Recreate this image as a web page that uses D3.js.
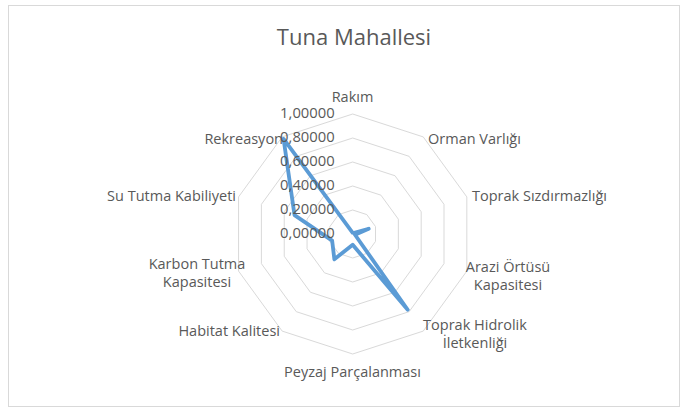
<!DOCTYPE html>
<html>
<head>
<meta charset="utf-8">
<script src="https://cdn.jsdelivr.net/npm/d3@7"></script>
<style>
  html, body { margin: 0; padding: 0; background: #ffffff; }
  svg { display: block; }
  text { font-family: "Open Sans", sans-serif; fill: #595959; }
</style>
</head>
<body>
<svg id="chart" width="687" height="413"></svg>
<script>
const title = "Tuna Mahallesi";
const categories = ["Rakım", "Orman Varlığı", "Toprak Sızdırmazlığı", "Arazi Örtüsü Kapasitesi",
  "Toprak Hidrolik İletkenliği", "Peyzaj Parçalanması", "Habitat Kalitesi",
  "Karbon Tutma Kapasitesi", "Su Tutma Kabiliyeti", "Rekreasyon"];
const labelLines = [["Rakım"], ["Orman Varlığı"], ["Toprak Sızdırmazlığı"], ["Arazi Örtüsü", "Kapasitesi"],
  ["Toprak Hidrolik", "İletkenliği"], ["Peyzaj Parçalanması"], ["Habitat Kalitesi"],
  ["Karbon Tutma", "Kapasitesi"], ["Su Tutma Kabiliyeti"], ["Rekreasyon"]];
const values = [0.01, 0.01, 0.14, 0.02, 0.78, 0.09, 0.26, 0.18, 0.51, 0.98];
const ticks = [0, 0.2, 0.4, 0.6, 0.8, 1.0];
const tickLabels = ["0,00000", "0,20000", "0,40000", "0,60000", "0,80000", "1,00000"];

const svg = d3.select("#chart");
const cx = 352.7, cy = 234, R = 120;

svg.append("rect").attr("x", 8.5).attr("y", 5.5).attr("width", 671).attr("height", 401)
  .attr("fill", "#ffffff").attr("stroke", "#d9d9d9").attr("stroke-width", 1);

svg.append("text").attr("x", 354).attr("y", 39).attr("text-anchor", "middle")
  .attr("dominant-baseline", "middle").style("font-size", "22px").text(title);

const r = d3.scaleLinear().domain([0, 1]).range([0, R]);
const ang = d => (categories.indexOf(d) / categories.length) * 2 * Math.PI;

const g = svg.append("g").attr("transform", `translate(${cx},${cy})`);

const ringLine = d3.lineRadial().angle(d => ang(d.c)).radius(d => r(d.v)).curve(d3.curveLinearClosed);

ticks.filter(t => t > 0).forEach(t => {
  g.append("path").attr("d", ringLine(categories.map(c => ({c, v: t}))))
    .attr("fill", "none").attr("stroke", "#d9d9d9").attr("stroke-width", 1);
});

g.append("path").attr("d", ringLine(categories.map((c, i) => ({c, v: values[i]}))))
  .attr("fill", "none").attr("stroke", "#5b9bd5").attr("stroke-width", 3.8)
  .attr("stroke-linejoin", "round");

ticks.forEach((t, i) => {
  g.append("text").attr("x", -18).attr("y", -r(t)).attr("text-anchor", "end")
    .attr("dominant-baseline", "middle").style("font-size", "14.8px").text(tickLabels[i]);
});

const labelPos = [
  {x: 352.5, y: 98, a: "middle"},
  {x: 428, y: 140, a: "start"},
  {x: 472, y: 197, a: "start"},
  {x: 508, y: 268, a: "middle"},
  {x: 475, y: 326, a: "middle"},
  {x: 352.5, y: 373, a: "middle"},
  {x: 280, y: 332, a: "end"},
  {x: 197, y: 265, a: "middle"},
  {x: 236, y: 197, a: "end"},
  {x: 283, y: 140, a: "end"}
];
labelLines.forEach((lines, i) => {
  const p = labelPos[i];
  const t = svg.append("text").attr("text-anchor", p.a).style("font-size", "14.5px");
  lines.forEach((ln, j) => {
    t.append("tspan").attr("x", p.x).attr("y", p.y + j * 18).attr("dominant-baseline", "middle").text(ln);
  });
});
</script>
</body>
</html>
